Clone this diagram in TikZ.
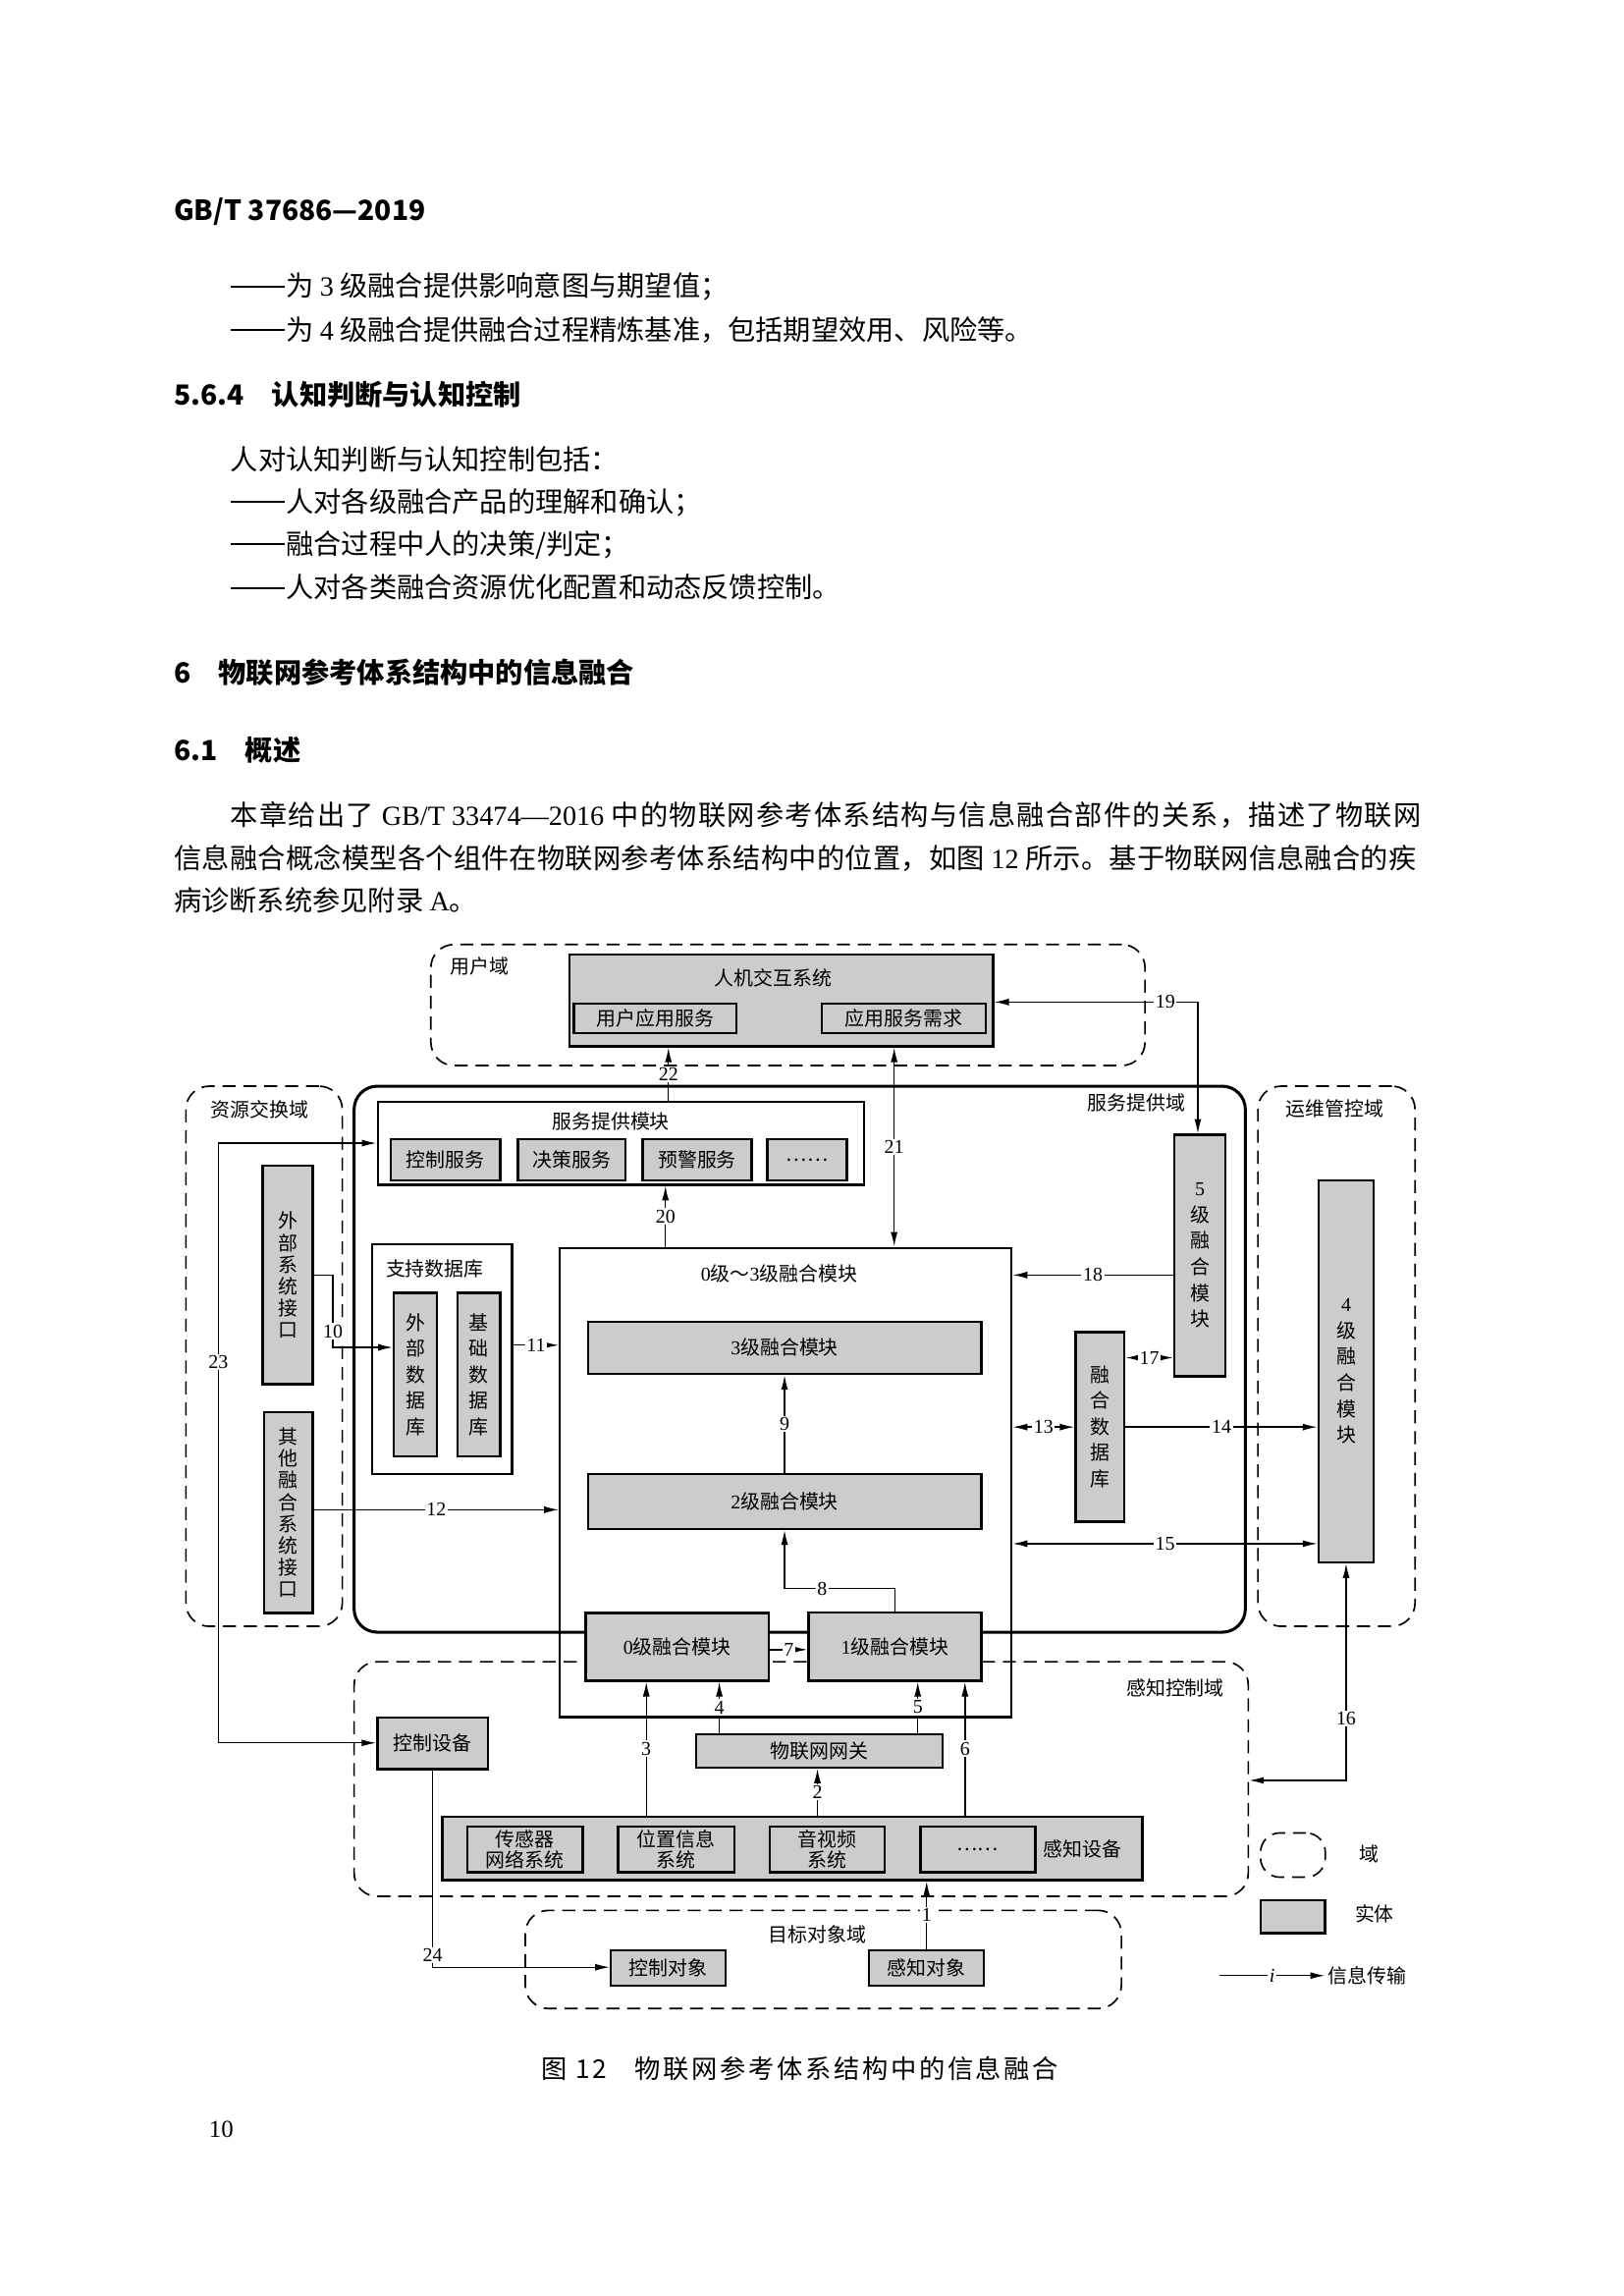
\documentclass[tikz,border=0pt]{standalone}
\usepackage{fontspec}
\setmainfont{Noto Sans CJK SC}
\newfontfamily\lat{Liberation Serif}
\newfontfamily\capfont[LetterSpace=10]{Noto Sans CJK SC}
\newfontfamily\spreadA[LetterSpace=4.5]{Noto Sans CJK SC}
\newfontfamily\spreadB[LetterSpace=0.9]{Noto Sans CJK SC}
\usetikzlibrary{arrows.meta}
\newcommand\dsz{\fontsize{7.2}{8.6}\selectfont}
\newcommand\vsz{\fontsize{7.2}{9.6}\selectfont}
\newcommand\isz{\fontsize{7.2}{8}\selectfont}
\newcommand\tsz{\fontsize{7.2}{7.5}\selectfont}
\newcommand\bsz{\fontsize{10.2}{12}\selectfont}
\newcommand\ldash{\makebox[2em][l]{\rule[0.33em]{1.95em}{0.06em}}}
\begin{document}
\begin{tikzpicture}[x=0.019091cm, y=-0.019091cm,
    sz/.style 2 args={minimum width={#1*0.019091cm}, minimum height={#2*0.019091cm}},
    ent/.style={draw, line width=0.85pt, fill=black!20, inner sep=0pt, font=\dsz},
    wbox/.style={draw, line width=0.85pt, inner sep=0pt},
    dom/.style={draw, line width=0.6pt, dash pattern=on 4.8pt off 2.9pt, rounded corners=0.3cm},
    sdom/.style={draw, line width=1.1pt, rounded corners=0.3cm},
    vt/.style={align=center, font=\vsz},
    lbl/.style={font=\dsz, inner sep=1pt},
    num/.style={font=\lat\dsz, fill=white, inner sep=0.6pt},
    txt/.style={anchor=west, inner sep=0pt, font=\bsz},
    hdg/.style={anchor=west, inner sep=0pt, font=\bsz\bfseries},
    arr/.style={line width=0.5pt, -{Latex[length=1.9mm,width=0.9mm]}},
    dbl/.style={line width=0.5pt, {Latex[length=1.9mm,width=0.9mm]}-{Latex[length=1.9mm,width=0.9mm]}}]
\useasboundingbox (0,0) rectangle (1100,1555.8);

% page text
\node[hdg] (hd) at (117.6,143.5) {GB/T 37686—2019};
\node[txt] (t1) at (156,194.5) {\ldash 为 {\lat 3} 级融合提供影响意图与期望值；};
\node[txt] (t2) at (156,223.3) {\ldash 为 {\lat 4} 级融合提供融合过程精炼基准，包括期望效用、风险等。};
\node[hdg] (h564) at (117.6,267.4) {5.6.4\quad 认知判断与认知控制};
\node[txt] (t3) at (156,311.5) {人对认知判断与认知控制包括：};
\node[txt] (t4) at (156,340.4) {\ldash 人对各级融合产品的理解和确认；};
\node[txt] (t5) at (156,369.3) {\ldash 融合过程中人的决策/判定；};
\node[txt] (t6) at (156,398) {\ldash 人对各类融合资源优化配置和动态反馈控制。};
\node[hdg] (h6) at (117.6,455.8) {6\quad 物联网参考体系结构中的信息融合};
\node[hdg] (h61) at (117.6,508.4) {6.1\quad 概述};
\node[txt, font=\spreadA\bsz] (b1) at (156,552.6) {本章给出了 {\lat GB/T 33474—2016} 中的物联网参考体系结构与信息融合部件的关系，描述了物联网};
\node[txt, font=\spreadB\bsz] (b2) at (117.6,581.5) {信息融合概念模型各个组件在物联网参考体系结构中的位置，如图 {\lat 12} 所示。基于物联网信息融合的疾};
\node[txt] (b3) at (117.6,610) {病诊断系统参见附录 {\lat A}。};

% domains
\node[dom, sz={484}{82}] (ud) at (534,681) {};
\node[dom, sz={106}{366}] (rd) at (179,919) {};
\node[sdom, sz={604}{370}] (sd) at (542,921) {};
\node[dom, sz={106.5}{366}] (od) at (905.75,919) {};
\node[dom, sz={606}{159}] (pd) at (543,1205.5) {};
\node[dom, sz={404}{66.5}] (td) at (558,1327.75) {};
\node[lbl] (udt) at (325,655) {用户域};
\node[lbl] (rdt) at (176,752) {资源交换域};
\node[lbl] (sdt) at (770,747) {服务提供域};
\node[lbl] (odt) at (904.5,751) {运维管控域};
\node[lbl] (pdt) at (796.5,1144) {感知控制域};
\node[lbl] (tdt) at (554,1311) {目标对象域};

% user domain
\node[ent, sz={287}{62}] (hmi) at (529.5,678) {};
\node[lbl] (hmit) at (524,663) {人机交互系统};
\node[ent, sz={110}{20}] (uas) at (444,690) {用户应用服务};
\node[ent, sz={111}{20}] (asr) at (612.5,690) {应用服务需求};

% service domain
\node[wbox, fill=white, sz={329.5}{56}] (spm) at (420.75,774.75) {};
\node[lbl] (spmt) at (414,760) {服务提供模块};
\node[ent, sz={74}{28}] (csv) at (302,786) {控制服务};
\node[ent, sz={73}{28}] (dsv) at (387.5,786) {决策服务};
\node[ent, sz={74}{28}] (wsv) at (472.5,786) {预警服务};
\node[ent, sz={54}{28}] (msv) at (547,786) {……};
\node[ent, sz={34}{148}, align=center, font=\isz] (esi) at (195,864) {外\\部\\系\\统\\接\\口};
\node[ent, sz={33}{136}, align=center, font=\isz] (ofi) at (195.5,1025) {其\\他\\融\\合\\系\\统\\接\\口};
\node[wbox, fill=white, sz={95}{156}] (sdb) at (299.5,921) {};
\node[lbl] (sdbt) at (294.7,860) {支持数据库};
\node[ent, sz={29}{111}, vt] (edb) at (281.5,931.5) {外\\部\\数\\据\\库};
\node[ent, sz={29}{111}, vt] (bdb) at (324.5,931.5) {基\\础\\数\\据\\库};
\node[wbox, sz={306}{318}] (fm) at (532.5,1004.55) {};
\node[lbl] (fmt) at (528,863) {{\lat 0}级～{\lat 3}级融合模块};
\node[ent, sz={266.5}{35.5}] (l3) at (531.75,913.25) {{\lat 3}级融合模块};
\node[ent, sz={266.5}{37.4}] (l2) at (531.75,1017.3) {{\lat 2}级融合模块};
\node[ent, sz={124}{45.8}] (l0) at (459,1115.9) {{\lat 0}级融合模块};
\node[ent, sz={117}{46.2}] (l1) at (606.5,1115.7) {{\lat 1}级融合模块};
\node[ent, sz={34.7}{163.6}, vt] (l5) at (813.15,850.8) {{\lat 5}\\级\\融\\合\\模\\块};
\node[ent, sz={33}{128.4}, vt] (fdb) at (745.5,966.8) {融\\合\\数\\据\\库};
\node[ent, sz={37.4}{258.6}, vt] (l4) at (912.3,929.3) {{\lat 4}\\级\\融\\合\\模\\块};

% sensing and control domain
\node[ent, sz={74.9}{35}] (cd) at (293.25,1181.2) {控制设备};
\node[ent, sz={166.6}{22.6}] (gw) at (555.3,1186.3) {物联网网关};
\node[ent, sz={474.6}{43}] (sdev) at (537,1252.5) {};
\node[lbl] (sdevt) at (733.7,1253) {感知设备};
\node[ent, sz={78.3}{31.1}, align=center, font=\tsz] (sns) at (355.85,1253.05) {传感器\\网络系统};
\node[ent, sz={78.6}{31.1}, align=center, font=\tsz] (lis) at (458.3,1253.05) {位置信息\\系统};
\node[ent, sz={77.9}{31.1}, align=center, font=\tsz] (avs) at (560.55,1253.05) {音视频\\系统};
\node[ent, sz={77.8}{31.1}] (mds) at (662.7,1253.05) {……};

% target object domain
\node[ent, sz={77.7}{24.1}] (co) at (452.85,1333.45) {控制对象};
\node[ent, sz={78}{24.1}] (so) at (627.7,1333.45) {感知对象};

% connectors
\draw[arr] (so.north -| 628,0) -- node[num]{1} (sdev.south -| 628,0);
\draw[arr] (sdev.north -| 554,0) -- node[num]{2} (gw.south -| 554,0);
\draw[arr] (sdev.north -| 438,0) -- node[num]{3} (l0.south -| 438,0);
\draw[arr] (gw.north -| 487.5,0) -- node[num]{4} (l0.south -| 487.5,0);
\draw[arr] (gw.north -| 622,0) -- node[num]{5} (l1.south -| 622,0);
\draw[arr] (sdev.north -| 654,0) -- node[num]{6} (l1.south -| 654,0);
\draw[arr] (l0.east |- 0,1117.8) -- node[num]{7} (l1.west |- 0,1117.8);
\draw[arr] (l1.north -| 606.7,0) |- node[num, pos=0.83]{8} (531.7,1076.5) -- (l2.south -| 531.7,0);
\draw[arr] (l2.north -| 531.7,0) -- node[num]{9} (l3.south -| 531.7,0);
\draw[arr] (esi.east |- 0,864) -- (225.6,864) -- node[num, pos=0.78]{10} (225.6,913) -- (edb.west |- 0,913);
\draw[arr] (sdb.east |- 0,911.5) -- node[num]{11} (fm.west |- 0,911.5);
\draw[arr] (ofi.east |- 0,1023) -- node[num]{12} (fm.west |- 0,1023);
\draw[dbl] (fm.east |- 0,967) -- node[num]{13} (fdb.west |- 0,967);
\draw[arr] (fdb.east |- 0,967) -- node[num]{14} (l4.west |- 0,967);
\draw[dbl] (fm.east |- 0,1046) -- node[num]{15} (l4.west |- 0,1046);
\draw[dbl] (l4.south) -- node[num, pos=0.715]{16} (l4.south |- 0,1206.4) -- (pd.east |- 0,1206.4);
\draw[dbl] (fdb.east |- 0,920) -- node[num]{17} (l5.west |- 0,920);
\draw[arr] (l5.west |- 0,864) -- node[num]{18} (fm.east |- 0,864);
\draw[dbl] (hmi.east |- 0,679) -- node[num, pos=0.84]{19} (811.8,679) -- (l5.north -| 811.8,0);
\draw[arr] (fm.north -| 451,0) -- node[num]{20} (spm.south -| 451,0);
\draw[dbl] (hmi.south -| 606,0) -- node[num]{21} (fm.north -| 606,0);
\draw[arr] (spm.north -| 453,0) -- node[num]{22} (hmi.south -| 453,0);
\draw[dbl] (spm.west |- 0,774.6) -- (148,774.6) -- node[num, pos=0.365]{23} (148,1181) -- (cd.west |- 0,1181);
\draw[arr] (cd.south) -- node[num, pos=0.94]{24} (cd.south |- 0,1333) -- (co.west |- 0,1333);

% legend
\node[dom, rounded corners=0.25cm, sz={43.9}{30}] (lgd) at (876.25,1257) {};
\node[lbl] (lgdt) at (928,1256) {域};
\node[ent, sz={43.4}{22.5}] (lge) at (876.3,1298.75) {};
\node[lbl] (lget) at (931.6,1297) {实体};
\coordinate (lga) at (826.3,1338.7);
\node[lbl, anchor=west] (lgat) at (898,1338.7) {信息传输};
\draw[arr] (lga) -- node[num]{\itshape i} (lgat.west);

% caption and page number
\node[anchor=west, inner sep=0pt, font=\capfont\fontsize{9.5}{11}\selectfont] (cap) at (366.6,1402) {图 12\hspace{1.1em}物联网参考体系结构中的信息融合};
\node[font=\lat\fontsize{9}{10}\selectfont] (pg) at (150,1443) {10};
\end{tikzpicture}
\end{document}
